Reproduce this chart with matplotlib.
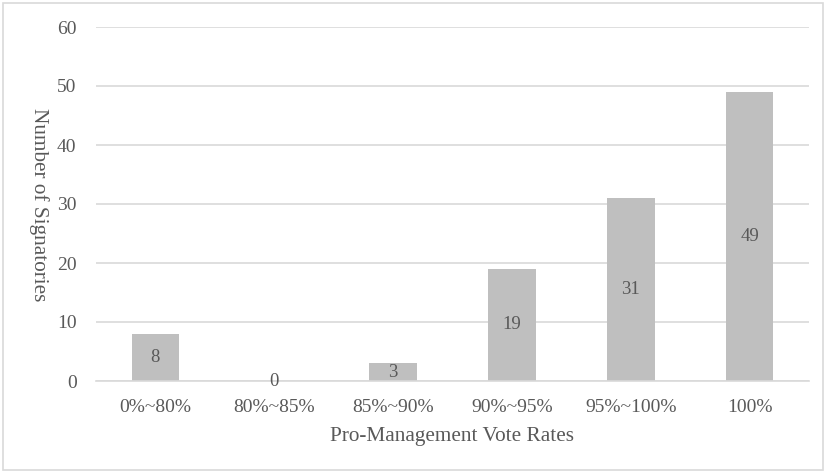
import matplotlib.pyplot as plt
from matplotlib.patches import Rectangle

categories = ['0%~80%', '80%~85%', '85%~90%', '90%~95%', '95%~100%', '100%']
counts = [8, 0, 3, 19, 31, 49]
yticks = [0, 10, 20, 30, 40, 50, 60]

text_col = '#595959'
grid_col = '#D9D9D9'
bar_col = '#BFBFBF'

plt.rcParams['font.family'] = ['Liberation Serif', 'DejaVu Serif']

fig = plt.figure(figsize=(8.26, 4.72), dpi=100)
ax = fig.add_axes([96 / 826, 1 - 381 / 472, (809 - 96) / 826, (381 - 27) / 472])

x = list(range(len(categories)))
ax.bar(x, counts, width=0.4, color=bar_col, zorder=2)
for xi, v in zip(x, counts):
    ax.text(xi, v / 2, str(v), ha='center', va='center', fontsize=13.5,
            color=text_col, zorder=3)

ax.set_xlim(-0.5, len(categories) - 0.5)
ax.set_ylim(0, 60)
ax.set_yticks(yticks)
ax.set_xticks(x)
ax.set_xticklabels(categories)
ax.tick_params(axis='both', length=0, labelsize=14, colors=text_col)
ax.tick_params(axis='y', pad=14)
ax.tick_params(axis='x', pad=13)
ax.grid(axis='y', color=grid_col, linewidth=1.2, zorder=0)
for s in ['top', 'right', 'left']:
    ax.spines[s].set_visible(False)
ax.spines['bottom'].set_color(grid_col)
ax.spines['bottom'].set_linewidth(1.2)

ax.set_xlabel('Pro-Management Vote Rates', fontsize=15.3, color=text_col, labelpad=8)
ax.set_ylabel('Number of Signatories', fontsize=15.3, color=text_col,
              rotation=270, va='center', ha='center')
ax.yaxis.set_label_coords((39 - 96) / 713, (381 - 205) / 354)

fig.patches.append(Rectangle((3 / 826, 2 / 472), 820 / 826, 467 / 472,
                             transform=fig.transFigure, fill=False,
                             edgecolor=grid_col, linewidth=1.2))

fig.savefig('out.png', dpi=100)
